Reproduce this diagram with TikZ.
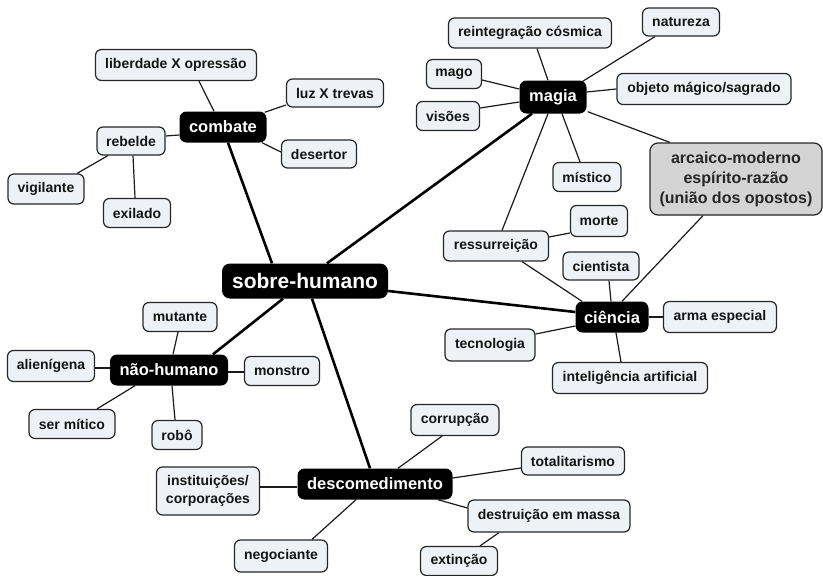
\documentclass[tikz,border=0pt]{standalone}
\usepackage{fontspec}
\setmainfont{Liberation Sans}
\usetikzlibrary{backgrounds}
\definecolor{leaffill}{HTML}{EEF2F7}
\definecolor{notefill}{HTML}{D4D4D4}
\definecolor{edgecol}{HTML}{1A1A1A}
\tikzset{
  leaf/.style={draw=black!85, fill=leaffill, line width=1.2pt, rounded corners=6pt, inner sep=0pt,
    font=\fontsize{14}{18}\selectfont\bfseries, text=black!92, align=center},
  hub/.style={fill=black, text=white, rounded corners=7pt, inner sep=0pt,
    font=\fontsize{16.5}{20}\selectfont\bfseries},
  rootnode/.style={hub, rounded corners=8pt, font=\fontsize{21}{24}\selectfont\bfseries},
  note/.style={draw=black!85, fill=notefill, line width=1.2pt, rounded corners=8pt, inner sep=0pt,
    font=\fontsize{16}{20}\selectfont\bfseries, text=black!85, align=center},
  thin/.style={draw=edgecol, line width=1.2pt},
  thick/.style={draw=black, line width=2.6pt},
  sz/.style 2 args={minimum width=#1pt, minimum height=#2pt}
}
\begin{document}
\begin{tikzpicture}[x=1pt,y=-1pt]
\useasboundingbox (0,0) rectangle (823,576);
% root and hubs
\node[rootnode, sz={166}{35}] (sobre) at (305,281) {sobre-humano};
\node[hub, sz={87}{31}] (combate) at (223,127) {combate};
\node[hub, sz={67}{33}] (magia) at (553,97) {magia};
\node[hub, sz={73}{31}] (ciencia) at (612,317) {ciência};
\node[hub, sz={118}{31}] (naohumano) at (169,370) {não-humano};
\node[hub, sz={155}{31}] (desc) at (375,484) {descomedimento};
% combate
\node[leaf, sz={161}{31}] (liberdade) at (176,65) {liberdade X opressão};
\node[leaf, sz={97}{28}] (luz) at (335,93) {luz X trevas};
\node[leaf, sz={68}{28}] (rebelde) at (131,141) {rebelde};
\node[leaf, sz={75}{28}] (desertor) at (319,154) {desertor};
\node[leaf, sz={76}{30}] (vigilante) at (46,189) {vigilante};
\node[leaf, sz={67}{29}] (exilado) at (137,213) {exilado};
% magia
\node[leaf, sz={163}{30}] (reint) at (530,33) {reintegração cósmica};
\node[leaf, sz={77}{28}] (natureza) at (681,22) {natureza};
\node[leaf, sz={55}{29}] (mago) at (454,74) {mago};
\node[leaf, sz={174}{31}] (objeto) at (704,89) {objeto mágico/sagrado};
\node[leaf, sz={63}{29}] (visoes) at (448,116) {visões};
\node[note, sz={172}{72}] (arcaico) at (736,179) {arcaico-moderno\\espírito-razão\\(união dos opostos)};
\node[leaf, sz={68}{29}] (mistico) at (587,177) {místico};
\node[leaf, sz={57}{31}] (morte) at (599,221) {morte};
\node[leaf, sz={105}{30}] (ressurreicao) at (496,246) {ressurreição};
% ciencia
\node[leaf, sz={76}{28}] (cientista) at (601,266) {cientista};
\node[leaf, sz={113}{31}] (arma) at (720,317) {arma especial};
\node[leaf, sz={90}{32}] (tecnologia) at (490,345) {tecnologia};
\node[leaf, sz={155}{31}] (ia) at (630,378) {inteligência artificial};
% nao-humano
\node[leaf, sz={74}{29}] (mutante) at (180,317) {mutante};
\node[leaf, sz={87}{31}] (alien) at (51,366) {alienígena};
\node[leaf, sz={75}{29}] (monstro) at (282,371) {monstro};
\node[leaf, sz={86}{29}] (sermitico) at (72,424) {ser mítico};
\node[leaf, sz={50}{29}] (robo) at (177,435) {robô};
% descomedimento
\node[leaf, sz={103}{48}] (inst) at (208,491) {instituições/\\corporações};
\node[leaf, sz={93}{32}] (negociante) at (281,556) {negociante};
\node[leaf, sz={88}{31}] (corrupcao) at (455,420) {corrupção};
\node[leaf, sz={103}{28}] (totalitarismo) at (573,461) {totalitarismo};
\node[leaf, sz={162}{32}] (destruicao) at (549,516) {destruição em massa};
\node[leaf, sz={77}{29}] (extincao) at (459,561) {extinção};

\begin{scope}[on background layer]
% thick
\draw[thick] ([xshift=5pt]combate.south) -- ([xshift=-33pt]sobre.north);
\draw[thick] ([xshift=-21pt]magia.south) -- ([xshift=22pt]sobre.north);
\draw[thick] ([yshift=-10pt]sobre.east) -- ([yshift=5pt]ciencia.west);
\draw[thick] ([xshift=-22pt]sobre.south) -- ([xshift=44pt]naohumano.north);
\draw[thick] ([xshift=7pt]sobre.south) -- ([xshift=-5pt]desc.north);
% combate
\draw[thin] ([xshift=23pt]liberdade.south) -- ([xshift=-9pt]combate.north);
\draw[thin] ([yshift=-12pt]luz.west) -- ([shift={(-2,1)}]combate.north east);
\draw[thin] ([yshift=-8pt]combate.west) -- ([yshift=5pt]rebelde.east);
\draw[thin] ([xshift=39pt]combate.south) -- ([yshift=2pt]desertor.west);
\draw[thin] ([xshift=-23pt]rebelde.south) -- ([xshift=31pt]vigilante.north);
\draw[thin] ([xshift=2pt]rebelde.south) -- ([xshift=-2pt]exilado.north);
% magia
\draw[thin] ([xshift=7pt]reint.south) -- ([xshift=-5pt]magia.north);
\draw[thin] ([xshift=-26pt]natureza.south) -- ([shift={(-4,1)}]magia.north east);
\draw[thin] ([yshift=-6pt]mago.east) -- ([yshift=8pt]magia.west);
\draw[thin] ([yshift=8pt]visoes.east) -- ([yshift=-5pt]magia.west);
\draw[thin] (objeto.west) -- ([yshift=5pt]magia.east);
\draw[thin] ([shift={(1,-2)}]magia.south east) -- ([xshift=-66pt]arcaico.north);
\draw[thin] ([xshift=9pt]magia.south) -- ([xshift=-7pt]mistico.north);
\draw[thin] ([xshift=-5pt]magia.south) -- ([xshift=6pt]ressurreicao.north);
\draw[thin] ([yshift=9pt]ressurreicao.east) -- ([yshift=-12pt]morte.west);
\draw[thin] ([xshift=26pt]ressurreicao.south) -- ([xshift=-30pt]ciencia.north);
% ciencia
\draw[thin] ([xshift=8pt]cientista.south) -- ([xshift=-1pt]ciencia.north);
\draw[thin] ([xshift=-33pt]arcaico.south) -- ([xshift=10pt]ciencia.north);
\draw[thin] (ciencia.east) -- (arma.west);
\draw[thin] ([yshift=-9pt]ciencia.west) -- ([yshift=11pt]tecnologia.east);
\draw[thin] ([xshift=4pt]ciencia.south) -- ([xshift=-9pt]ia.north);
% nao-humano
\draw[thin] ([xshift=-2pt]mutante.south) -- ([xshift=4pt]naohumano.north);
\draw[thin] ([yshift=-2pt]alien.east) -- ([yshift=2pt]naohumano.west);
\draw[thin] ([yshift=-2pt]naohumano.east) -- ([yshift=-1pt]monstro.west);
\draw[thin] ([xshift=-34pt]naohumano.south) -- ([xshift=25pt]sermitico.north);
\draw[thin] ([xshift=3pt]naohumano.south) -- ([xshift=-2pt]robo.north);
% descomedimento
\draw[thin] ([yshift=4pt]inst.east) -- ([yshift=-3pt]desc.west);
\draw[thin] ([xshift=-19pt]desc.south) -- ([xshift=31pt]negociante.north);
\draw[thin] ([xshift=-13pt]corrupcao.south) -- ([xshift=23pt]desc.north);
\draw[thin] ([yshift=6pt]desc.east) -- ([yshift=-7pt]totalitarismo.west);
\draw[thin] ([xshift=63pt]desc.south) -- ([yshift=8pt]destruicao.west);
\draw[thin] ([xshift=-50pt]destruicao.south) -- ([xshift=21pt]extincao.north);
\end{scope}
\end{tikzpicture}
\end{document}
